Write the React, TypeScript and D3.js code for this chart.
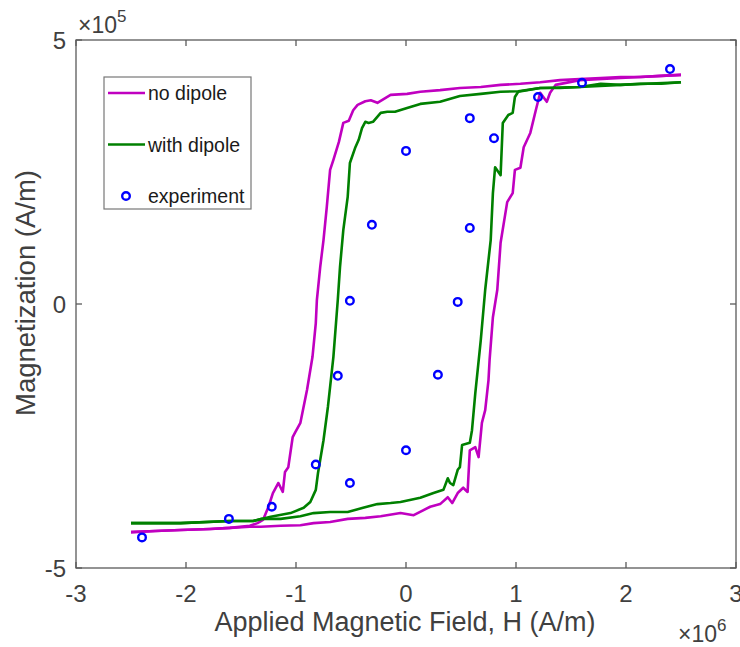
import React from "react";
import * as d3 from "d3";

// Values in units: H ×10^6 A/m, M ×10^5 A/m
const noDipoleUpperH = [2.5, 2.32, 2.13, 1.95, 1.77, 1.58, 1.4, 1.22, 1.04, 0.86, 0.68, 0.49, 0.31, 0.13, 0.01, -0.14, -0.26, -0.32, -0.37, -0.44, -0.48, -0.52, -0.57, -0.61, -0.66, -0.69, -0.72, -0.75, -0.78, -0.81, -0.82, -0.85, -0.9, -0.96, -1.01, -1.03, -1.07, -1.1, -1.12, -1.16, -1.21, -1.25, -1.3, -1.35, -1.42, -1.6, -1.78, -2.05, -2.28, -2.5];
const noDipoleUpperM = [4.34, 4.32, 4.3, 4.3, 4.28, 4.26, 4.24, 4.2, 4.17, 4.15, 4.11, 4.09, 4.05, 4.02, 3.98, 3.96, 3.81, 3.86, 3.84, 3.77, 3.67, 3.47, 3.43, 3.07, 2.73, 2.54, 1.84, 1.21, 0.7, 0.08, -0.36, -1.0, -1.63, -2.25, -2.44, -2.52, -3.09, -3.18, -3.56, -3.39, -3.58, -3.84, -4.09, -4.15, -4.2, -4.24, -4.26, -4.28, -4.3, -4.32];
const noDipoleLowerH = [-2.5, -2.28, -2.05, -1.78, -1.6, -1.42, -1.32, -1.14, -0.96, -0.84, -0.69, -0.53, -0.37, -0.23, -0.05, 0.07, 0.22, 0.31, 0.38, 0.42, 0.47, 0.52, 0.56, 0.58, 0.63, 0.66, 0.69, 0.72, 0.75, 0.76, 0.79, 0.83, 0.86, 0.92, 0.97, 0.99, 1.04, 1.07, 1.13, 1.18, 1.22, 1.28, 1.31, 1.36, 1.58, 1.95, 2.32, 2.5];
const noDipoleLowerM = [-4.32, -4.3, -4.28, -4.26, -4.24, -4.22, -4.22, -4.2, -4.19, -4.15, -4.13, -4.07, -4.05, -4.02, -3.96, -4.0, -3.84, -3.79, -3.66, -3.77, -3.58, -3.48, -3.56, -2.77, -2.71, -2.9, -2.25, -2.01, -1.44, -1.06, -0.25, 0.27, 1.16, 1.93, 2.1, 2.54, 2.58, 2.97, 3.24, 3.67, 4.0, 3.83, 4.0, 4.15, 4.24, 4.28, 4.32, 4.34];

const withDipoleUpperH = [2.5, 2.32, 2.13, 1.95, 1.77, 1.58, 1.4, 1.22, 1.02, 0.86, 0.68, 0.49, 0.31, 0.13, 0.01, -0.1, -0.17, -0.23, -0.3, -0.34, -0.37, -0.4, -0.43, -0.46, -0.51, -0.53, -0.57, -0.6, -0.62, -0.66, -0.71, -0.75, -0.8, -0.82, -0.87, -0.93, -1.05, -1.23, -1.39, -1.6, -2.05, -2.32, -2.5];
const withDipoleUpperM = [4.2, 4.17, 4.17, 4.15, 4.17, 4.11, 4.09, 4.09, 4.03, 4.02, 3.98, 3.94, 3.83, 3.79, 3.71, 3.64, 3.64, 3.62, 3.45, 3.43, 3.45, 3.33, 3.11, 2.97, 2.67, 2.03, 1.4, 0.7, 0.08, -1.0, -1.95, -2.58, -3.2, -3.52, -3.75, -3.86, -3.96, -4.03, -4.11, -4.11, -4.15, -4.15, -4.15];
const withDipoleLowerH = [-2.5, -2.32, -2.05, -1.6, -1.39, -1.32, -1.14, -0.96, -0.84, -0.69, -0.53, -0.39, -0.26, -0.14, -0.05, 0.13, 0.25, 0.34, 0.38, 0.4, 0.43, 0.47, 0.49, 0.51, 0.58, 0.6, 0.63, 0.68, 0.72, 0.77, 0.79, 0.81, 0.86, 0.88, 0.93, 0.97, 0.99, 1.02, 1.22, 1.58, 1.95, 2.5];
const withDipoleLowerM = [-4.15, -4.15, -4.15, -4.11, -4.11, -4.07, -4.07, -4.02, -3.96, -3.94, -3.94, -3.86, -3.79, -3.77, -3.75, -3.67, -3.58, -3.52, -3.3, -3.39, -3.43, -3.14, -3.09, -2.67, -2.63, -2.39, -1.69, -0.68, 0.27, 1.21, 2.1, 2.59, 2.44, 3.43, 3.58, 3.62, 3.92, 4.02, 4.09, 4.11, 4.15, 4.2];

const experimentH = [2.4, 1.6, 1.2, 0.8, 0.58, 0, 0.58, 0.47, 0.29, 0, -0.51, -0.82, -1.22, -1.61, -2.4, -0.62, -0.51, -0.31];
const experimentM = [4.45, 4.19, 3.92, 3.14, 3.52, 2.9, 1.44, 0.04, -1.34, -2.77, -3.39, -3.04, -3.84, -4.07, -4.42, -1.36, 0.06, 1.5];

const xTicks = [-3, -2, -1, 0, 1, 2, 3];
const yTicks = [-5, 0, 5];
const legendLabels = ["no dipole", "with dipole", "experiment"];

const MAGENTA = "#c000c0";
const GREEN = "#008000";
const BLUE = "#0000ff";
const AXIS = "#5a5a5a";
const TEXT = "#404040";
const FONT = "'Liberation Sans', Arial, Helvetica, sans-serif";

export default function App() {
  const W = 740, H = 647;
  const x = d3.scaleLinear().domain([-3, 3]).range([76, 736]);
  const y = d3.scaleLinear().domain([-5, 5]).range([568, 40]);
  const line = d3.line<[number, number]>().x(d => x(d[0])).y(d => y(d[1]));
  const zip = (a: number[], b: number[]) => a.map((v, i) => [v, b[i]] as [number, number]);

  const series = [
    { d: zip(noDipoleUpperH, noDipoleUpperM), c: MAGENTA },
    { d: zip(noDipoleLowerH, noDipoleLowerM), c: MAGENTA },
    { d: zip(withDipoleUpperH, withDipoleUpperM), c: GREEN },
    { d: zip(withDipoleLowerH, withDipoleLowerM), c: GREEN },
  ];
  const [x0, x1] = x.range();
  const [yb, yt] = y.range();
  const tickLen = 6;
  const fmt = (t: number) => (t < 0 ? "-" + Math.abs(t) : String(t));

  return (
    <svg width={W} height={H} style={{ position: "absolute", left: 0, top: 0, background: "#fff" }} fontFamily={FONT}>
      <rect x={0} y={0} width={W} height={H} fill="#fff" />
      {series.map((s, i) => (
        <path key={i} d={line(s.d) || ""} fill="none" stroke={s.c} strokeWidth={2.6} strokeLinejoin="round" />
      ))}
      {experimentH.map((h, i) => (
        <circle key={i} cx={x(h)} cy={y(experimentM[i])} r={3.8} fill="none" stroke={BLUE} strokeWidth={2.4} />
      ))}
      {/* axes box */}
      <rect x={x0} y={yt} width={x1 - x0} height={yb - yt} fill="none" stroke={AXIS} strokeWidth={1.3} />
      {xTicks.map(t => (
        <g key={"x" + t}>
          <line x1={x(t)} x2={x(t)} y1={yb} y2={yb - tickLen} stroke={AXIS} strokeWidth={1.3} />
          <line x1={x(t)} x2={x(t)} y1={yt} y2={yt + tickLen} stroke={AXIS} strokeWidth={1.3} />
          <text x={x(t)} y={yb + 34} textAnchor="middle" fontSize={24} fill={TEXT}>{fmt(t)}</text>
        </g>
      ))}
      {yTicks.map(t => (
        <g key={"y" + t}>
          <line x1={x0} x2={x0 + tickLen} y1={y(t)} y2={y(t)} stroke={AXIS} strokeWidth={1.3} />
          <line x1={x1} x2={x1 - tickLen} y1={y(t)} y2={y(t)} stroke={AXIS} strokeWidth={1.3} />
          <text x={x0 - 10} y={y(t) + 9} textAnchor="end" fontSize={24} fill={TEXT}>{fmt(t)}</text>
        </g>
      ))}
      {/* exponents */}
      <text x={78} y={33} fontSize={23} fill={TEXT}>×10<tspan dy={-11} fontSize={17}>5</tspan></text>
      <text x={678} y={642} fontSize={23} fill={TEXT}>×10<tspan dy={-11} fontSize={17}>6</tspan></text>
      {/* axis labels */}
      <text x={405} y={631} textAnchor="middle" fontSize={27} fill={TEXT}>Applied Magnetic Field, H (A/m)</text>
      <text transform={`translate(35,293) rotate(-90)`} textAnchor="middle" fontSize={27.5} fill={TEXT}>Magnetization (A/m)</text>
      {/* legend */}
      <rect x={104} y={77} width={147} height={132} fill="#fff" stroke="#777" strokeWidth={1.2} />
      {legendLabels.map((lab, i) => {
        const ly = 93 + i * 51.5;
        return (
          <g key={lab}>
            {i < 2 ? (
              <line x1={108} x2={145} y1={ly} y2={ly} stroke={i === 0 ? MAGENTA : GREEN} strokeWidth={2.6} />
            ) : (
              <circle cx={126} cy={ly} r={3.8} fill="none" stroke={BLUE} strokeWidth={2.4} />
            )}
            <text x={148} y={ly + 7} fontSize={19.5} fill="#1a1a1a">{lab}</text>
          </g>
        );
      })}
    </svg>
  );
}
